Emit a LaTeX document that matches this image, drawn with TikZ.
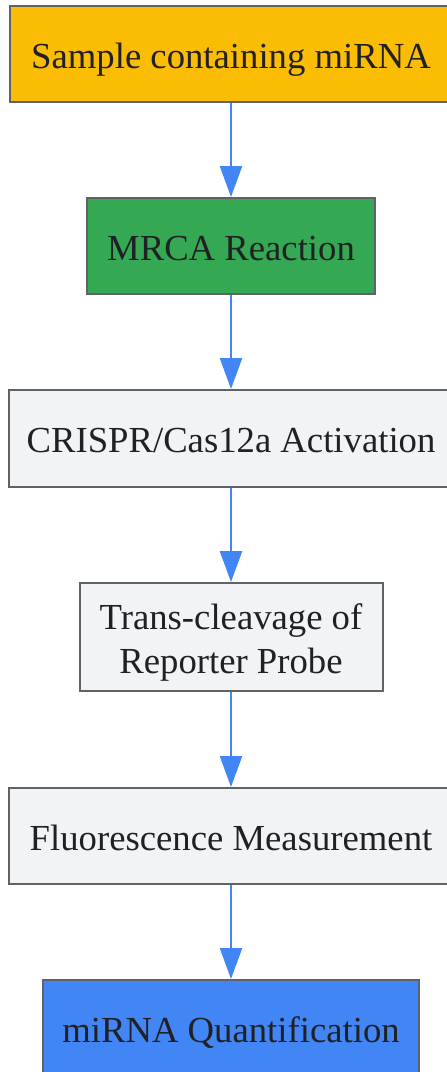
\documentclass[tikz,border=0pt]{standalone}
\usepackage{fontspec}
\setmainfont{Liberation Serif}
\usepackage{xcolor}
\usepackage{tikz}
\usetikzlibrary{arrows.meta}

\definecolor{edgegray}{HTML}{5F6368}
\definecolor{txtgray}{HTML}{202124}
\definecolor{gyellow}{HTML}{FBBC04}
\definecolor{ggreen}{HTML}{34A853}
\definecolor{glight}{HTML}{F1F3F4}
\definecolor{gblue}{HTML}{4285F4}

\tikzset{
  box/.style={draw=edgegray, line width=2pt, fill=glight, text=txtgray,
    inner sep=0pt, align=center, text height=30pt, text depth=2pt,
    font=\fontsize{36.7}{44}\selectfont},
  flow/.style={draw=gblue, line width=2.6pt,
    -{Triangle[length=31pt,width=22pt]}}
}

\begin{document}
\begin{tikzpicture}[x=1pt,y=-1pt]
\useasboundingbox (0,0) rectangle (447,1072);
\node[box, fill=gyellow, minimum width=442pt, minimum height=96pt] (sample) at (231,54) {Sample containing miRNA};
\node[box, fill=ggreen, minimum width=288pt, minimum height=96pt] (mrca) at (231,246) {MRCA Reaction};
\node[box, minimum width=444pt, minimum height=97pt] (crispr) at (231,438.5) {CRISPR/Cas12a Activation};
\node[box, minimum width=303pt, minimum height=108pt, text height=75pt, text depth=2pt] (trans) at (231,637) {Trans-cleavage of\\Reporter Probe};
\node[box, minimum width=444pt, minimum height=96pt] (fluor) at (231,836) {Fluorescence Measurement};
\node[box, fill=gblue, minimum width=376pt, minimum height=96pt] (quant) at (231,1028) {miRNA Quantification};
\draw[flow] (sample) -- (mrca);
\draw[flow] (mrca) -- (crispr);
\draw[flow] (crispr) -- (trans);
\draw[flow] (trans) -- (fluor);
\draw[flow] (fluor) -- (quant);
\end{tikzpicture}
\end{document}
